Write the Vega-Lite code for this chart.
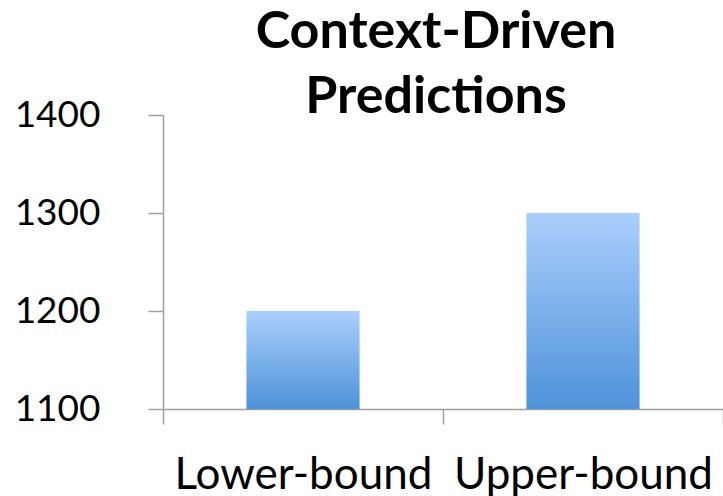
{
  "$schema": "https://vega.github.io/schema/vega-lite/v6.json",
  "width": 560,
  "height": 294,
  "autosize": "none",
  "padding": {"left": 163, "top": 115, "right": 0, "bottom": 87},
  "background": "white",
  "title": {
    "text": ["Context-Driven", "Predictions"],
    "font": "Lato",
    "fontSize": 52,
    "fontWeight": "bold",
    "color": "#000000",
    "lineHeight": 65,
    "anchor": "middle",
    "frame": "group",
    "dx": -7,
    "offset": -69,
    "baseline": "alphabetic"
  },
  "data": {
    "values": [
      {"bound": "Lower-bound", "value": 1200},
      {"bound": "Upper-bound", "value": 1300}
    ]
  },
  "mark": {
    "type": "bar",
    "width": {"band": 0.404},
    "color": {
      "gradient": "linear",
      "x1": 0, "y1": 0, "x2": 0, "y2": 1,
      "stops": [
        {"offset": 0, "color": "#abcffc"},
        {"offset": 1, "color": "#4d92d9"}
      ]
    }
  },
  "encoding": {
    "x": {
      "field": "bound",
      "type": "nominal",
      "sort": null,
      "scale": {"paddingInner": 0, "paddingOuter": 0},
      "axis": {
        "title": null,
        "labelAngle": 0,
        "labelLimit": 0,
        "tickBand": "extent",
        "tickSize": 15,
        "tickWidth": 1.5,
        "tickColor": "#a0a0a0",
        "domainColor": "#a0a0a0",
        "domainWidth": 1.5,
        "labelFont": "Lato",
        "labelFontSize": 44,
        "labelColor": "#000000",
        "labelPadding": 29
      }
    },
    "y": {
      "field": "value",
      "type": "quantitative",
      "scale": {"domain": [1100, 1400], "zero": false, "nice": false},
      "axis": {
        "title": null,
        "values": [1100, 1200, 1300, 1400],
        "grid": false,
        "tickSize": 15,
        "tickWidth": 1.5,
        "tickColor": "#a0a0a0",
        "domainColor": "#a0a0a0",
        "domainWidth": 1.5,
        "labelFont": "Lato",
        "labelFontSize": 37,
        "labelColor": "#000000",
        "labelPadding": 48,
        "format": "d"
      }
    },
    "y2": {"datum": 1100}
  },
  "config": {"view": {"stroke": null}}
}
